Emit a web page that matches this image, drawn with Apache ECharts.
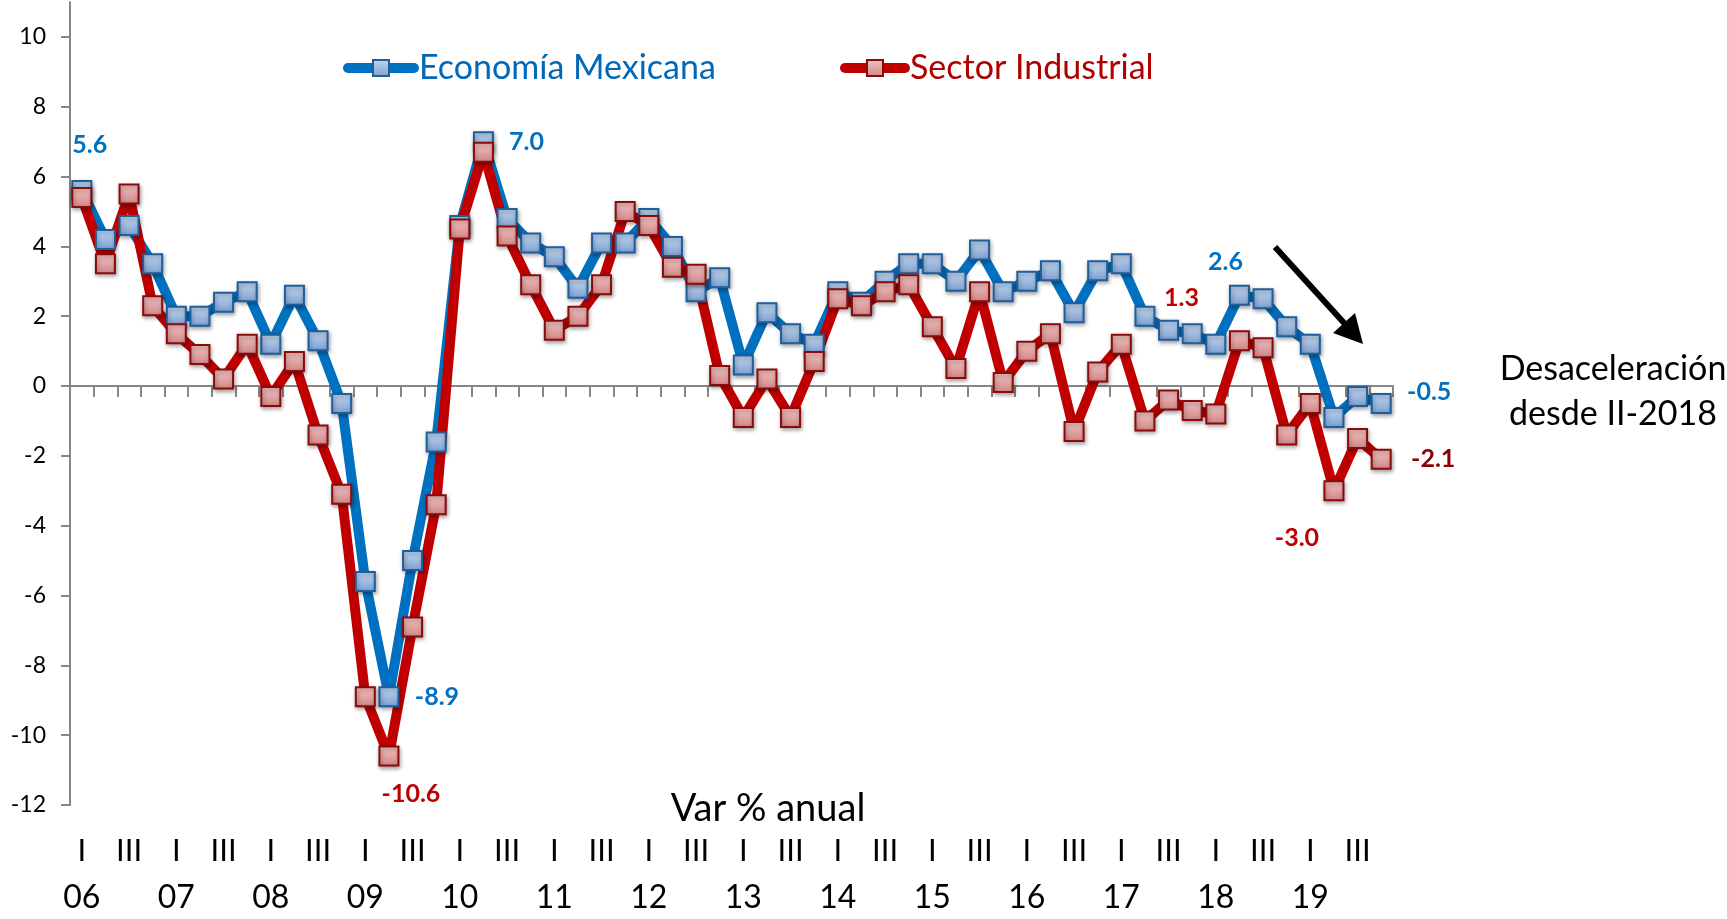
<!DOCTYPE html>
<html><head><meta charset="utf-8">
<script src="https://cdn.jsdelivr.net/npm/echarts@6/dist/echarts.min.js"></script>
<style>html,body{margin:0;padding:0;background:#fff}#c{width:1727px;height:919px}</style>
</head><body><div id="c"></div>
<script>
// ---- data ----
const years = ['06','07','08','09','10','11','12','13','14','15','16','17','18','19'];
const quarters = ['I','II','III','IV'];
const shownQuarters = ['I','III'];
const economia = [5.6,4.2,4.6,3.5,2.0,2.0,2.4,2.7,1.2,2.6,1.3,-0.5,-5.6,-8.9,-5.0,-1.6,
  4.6,7.0,4.8,4.1,3.7,2.8,4.1,4.1,4.8,4.0,2.7,3.1,0.6,2.1,1.5,1.2,
  2.7,2.4,3.0,3.5,3.5,3.0,3.9,2.7,3.0,3.3,2.1,3.3,3.5,2.0,1.6,1.5,
  1.2,2.6,2.5,1.7,1.2,-0.9,-0.3,-0.5];
const industrial = [5.4,3.5,5.5,2.3,1.5,0.9,0.2,1.2,-0.3,0.7,-1.4,-3.1,-8.9,-10.6,-6.9,-3.4,
  4.5,6.7,4.3,2.9,1.6,2.0,2.9,5.0,4.6,3.4,3.2,0.3,-0.9,0.2,-0.9,0.7,
  2.5,2.3,2.7,2.9,1.7,0.5,2.7,0.1,1.0,1.5,-1.3,0.4,1.2,-1.0,-0.4,-0.7,
  -0.8,1.3,1.1,-1.4,-0.5,-3.0,-1.5,-2.1];
const yTicks = [-12,-10,-8,-6,-4,-2,0,2,4,6,8,10];
const seriesNames = ['Economía Mexicana','Sector Industrial'];
const axisTitle = 'Var % anual';
const noteLines = ['Desaceleración','desde II-2018'];
// indices of labelled points
const blueLabelIdx = [0,13,17,49,55];
const redLabelIdx = [13,49,53,55];

const categories = [];
years.forEach(y => quarters.forEach(q => categories.push(q + '-' + y)));

// ---- styles ----
const FONT = 'Lato, "Noto Sans", sans-serif';
const BLUE = '#0070C0', RED = '#C00000';
const blueLabelStyle = {
  0: {offset: [8, -46]}, 13: {offset: [48, 0]}, 17: {offset: [43, 0]},
  49: {offset: [-14, -33]}, 55: {offset: [48, -12]}
};
const redLabelStyle = {
  13: {offset: [22, 38]}, 49: {offset: [-58, -43]}, 53: {offset: [-37, 47]},
  55: {offset: [52, 0], color: '#8B0000'}
};
function buildData(vals, idxList, styleMap, color) {
  return vals.map((v, i) => {
    if (idxList.indexOf(i) < 0) return v;
    const st = styleMap[i] || {};
    return {value: v, label: {
      show: true, position: 'inside', offset: st.offset, color: st.color || color,
      fontFamily: FONT, fontWeight: 'bold', fontSize: 25, textBorderWidth: 0,
      formatter: p => Number(p.value).toFixed(1)
    }};
  });
}
function markerStyle(top, bottom, border) {
  return {
    color: new echarts.graphic.LinearGradient(0, 0, 0, 1, [
      {offset: 0, color: top}, {offset: 1, color: bottom}]),
    borderColor: border, borderWidth: 2,
    shadowBlur: 4, shadowColor: 'rgba(0,0,0,0.35)', shadowOffsetY: 2, shadowOffsetX: 1
  };
}

const chart = echarts.init(document.getElementById('c'), null, {renderer: 'canvas'});
const option = {
  animation: false,
  backgroundColor: '#fff',
  grid: {left: 70, right: 334, top: 2, bottom: 114, containLabel: false, outerBoundsMode: 'none'},
  legend: [
    {data: [seriesNames[0]], left: 338, top: 46, itemWidth: 66, itemHeight: 20, itemGap: 4,
     lineStyle: {width: 10, cap: 'round'},
     textStyle: {fontFamily: FONT, fontSize: 34, color: '#0068B8'}},
    {data: [seriesNames[1]], left: 835, top: 46, itemWidth: 60, itemHeight: 20, itemGap: 4,
     lineStyle: {width: 10, cap: 'round'},
     textStyle: {fontFamily: FONT, fontSize: 34, color: '#B00000'}}
  ],
  xAxis: [
    {type: 'category', data: categories, boundaryGap: true,
     axisLine: {show: true, onZero: true, lineStyle: {color: '#868686', width: 2}},
     axisTick: {show: true, interval: 0, length: 11, alignWithLabel: false, lineStyle: {color: '#868686', width: 2}},
     axisLabel: {show: false}, splitLine: {show: false}},
    {type: 'category', data: categories, position: 'bottom', boundaryGap: true,
     axisLine: {show: false, onZero: false}, axisTick: {show: false},
     axisLabel: {show: true, interval: 0, margin: 46, verticalAlign: 'middle', fontFamily: FONT,
       fontSize: 31, color: '#000',
       formatter: v => { const q = v.split('-')[0]; return shownQuarters.indexOf(q) >= 0 ? q : ''; }}},
    {type: 'category', data: categories, position: 'bottom', boundaryGap: true,
     axisLine: {show: false, onZero: false}, axisTick: {show: false},
     axisLabel: {show: true, interval: 0, margin: 93, verticalAlign: 'middle', fontFamily: FONT,
       fontSize: 32, color: '#000',
       formatter: v => { const p = v.split('-'); return p[0] === quarters[0] ? p[1] : ''; }}}
  ],
  yAxis: {
    type: 'value', min: -12, max: 11, interval: 2,
    axisLine: {show: true, onZero: false, lineStyle: {color: '#868686', width: 2}},
    axisTick: {show: true, length: 9, customValues: yTicks, lineStyle: {color: '#868686', width: 2}},
    axisLabel: {customValues: yTicks, margin: 24, fontFamily: FONT, fontSize: 23, color: '#000'},
    splitLine: {show: false}
  },
  series: [
    {name: seriesNames[0], type: 'line', xAxisIndex: 0, data: buildData(economia, blueLabelIdx, blueLabelStyle, BLUE),
     symbol: 'rect', symbolSize: 19, showAllSymbol: true,
     lineStyle: {color: BLUE, width: 10, cap: 'round', join: 'round'},
     itemStyle: markerStyle('#C4D8F0', '#7C9FD0', '#1E5E9E')},
    {name: seriesNames[1], type: 'line', xAxisIndex: 0, data: buildData(industrial, redLabelIdx, redLabelStyle, RED),
     symbol: 'rect', symbolSize: 19, showAllSymbol: true,
     lineStyle: {color: RED, width: 10, cap: 'round', join: 'round'},
     itemStyle: markerStyle('#F3C4C4', '#D08585', '#8B0A0A')}
  ],
  graphic: [
    {type: 'text', x: 768, y: 809, style: {text: axisTitle, font: '38px ' + FONT, fill: '#000', align: 'center', verticalAlign: 'middle'}},
    {type: 'text', x: 1613, y: 369, style: {text: noteLines[0], font: '34px ' + FONT, fill: '#000', align: 'center', verticalAlign: 'middle'}},
    {type: 'text', x: 1613, y: 414, style: {text: noteLines[1], font: '34px ' + FONT, fill: '#000', align: 'center', verticalAlign: 'middle'}},
    {type: 'line', shape: {x1: 1275, y1: 247, x2: 1345, y2: 324}, style: {stroke: '#000', lineWidth: 6}},
    {type: 'polygon', shape: {points: [[1363, 344], [1333, 333], [1355, 313]]}, style: {fill: '#000'}}
  ]
};
chart.setOption(option);
</script></body></html>
